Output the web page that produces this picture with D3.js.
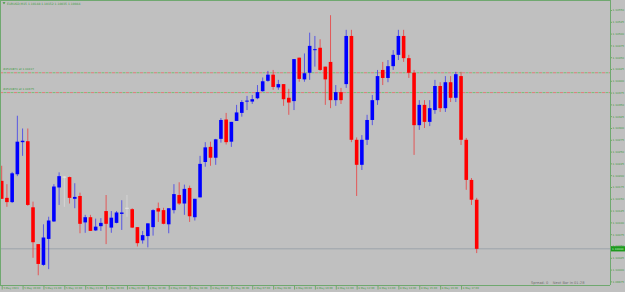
<!DOCTYPE html>
<html>
<head>
<meta charset="utf-8">
<script src="https://cdn.jsdelivr.net/npm/d3@7"></script>
<style>
  body { margin: 0; background: #c0c0c0; }
  svg { display: block; font-family: "DejaVu Sans", sans-serif; }
</style>
</head>
<body>
<div class="chart"></div>
<script>
// EURUSD M15, 5 May 19:00 -> 8 May 17:45
var opens = [1.10188,1.10152,1.10143,1.10202,1.10270,1.10272,1.10132,1.10054,1.10010,1.10065,
  1.10102,1.10174,1.10197,1.10196,1.10150,1.10156,1.10100,1.10111,1.10083,1.10092,
  1.10124,1.10089,1.10099,1.10118,1.10131,1.10128,1.10090,1.10062,1.10071,1.10090,
  1.10130,1.10126,1.10096,1.10126,1.10158,1.10140,1.10173,1.10111,1.10153,1.10228,
  1.10260,1.10237,1.10277,1.10318,1.10271,1.10315,1.10332,1.10356,1.10356,1.10363,
  1.10378,1.10400,1.10413,1.10386,1.10393,1.10364,1.10357,1.10449,1.10403,1.10417,
  1.10466,1.10470,1.10430,1.10440,1.10359,1.10376,1.10393,1.10495,1.10275,1.10222,
  1.10275,1.10317,1.10359,1.10423,1.10406,1.10431,1.10455,1.10495,1.10448,1.10417,
  1.10306,1.10349,1.10313,1.10338,1.10389,1.10342,1.10397,1.10364,1.10410,1.10275,
  1.10190,1.10148];
var highs = [1.10220,1.10181,1.10207,1.10326,1.10299,1.10299,1.10144,1.10054,1.10096,1.10112,
  1.10181,1.10206,1.10198,1.10197,1.10183,1.10163,1.10116,1.10116,1.10108,1.10109,
  1.10158,1.10124,1.10124,1.10147,1.10158,1.10130,1.10090,1.10082,1.10098,1.10128,
  1.10142,1.10131,1.10130,1.10181,1.10185,1.10180,1.10178,1.10150,1.10241,1.10270,
  1.10271,1.10277,1.10321,1.10332,1.10313,1.10349,1.10359,1.10368,1.10370,1.10391,
  1.10407,1.10421,1.10423,1.10402,1.10393,1.10383,1.10446,1.10449,1.10458,1.10502,
  1.10495,1.10488,1.10430,1.10539,1.10391,1.10385,1.10508,1.10508,1.10280,1.10285,
  1.10328,1.10370,1.10423,1.10440,1.10444,1.10465,1.10508,1.10508,1.10455,1.10423,
  1.10359,1.10359,1.10359,1.10402,1.10397,1.10410,1.10410,1.10419,1.10419,1.10279,
  1.10194,1.10152];
var lows = [1.10150,1.10133,1.10141,1.10198,1.10241,1.10135,1.10025,1.09988,1.10008,1.10001,
  1.10101,1.10137,1.10133,1.10140,1.10130,1.10077,1.10078,1.10082,1.10082,1.10082,
  1.10054,1.10078,1.10098,1.10084,1.10112,1.10088,1.10049,1.10055,1.10047,1.10072,
  1.10101,1.10096,1.10077,1.10119,1.10137,1.10116,1.10101,1.10104,1.10153,1.10218,
  1.10220,1.10222,1.10269,1.10265,1.10260,1.10315,1.10324,1.10338,1.10351,1.10361,
  1.10377,1.10398,1.10381,1.10381,1.10347,1.10328,1.10338,1.10398,1.10398,1.10402,
  1.10430,1.10421,1.10349,1.10342,1.10347,1.10351,1.10385,1.10270,1.10156,1.10211,
  1.10264,1.10306,1.10349,1.10391,1.10397,1.10423,1.10444,1.10440,1.10406,1.10243,
  1.10296,1.10300,1.10304,1.10330,1.10334,1.10334,1.10355,1.10355,1.10264,1.10169,
  1.10137,1.10035];
var closes = [1.10150,1.10143,1.10204,1.10271,1.10273,1.10137,1.10058,1.10012,1.10068,1.10104,
  1.10176,1.10198,1.10197,1.10152,1.10154,1.10097,1.10111,1.10082,1.10091,1.10099,
  1.10097,1.10110,1.10121,1.10121,1.10131,1.10089,1.10056,1.10073,1.10098,1.10126,
  1.10123,1.10097,1.10130,1.10160,1.10140,1.10171,1.10113,1.10150,1.10224,1.10259,
  1.10237,1.10276,1.10317,1.10270,1.10313,1.10333,1.10355,1.10358,1.10361,1.10376,
  1.10399,1.10413,1.10387,1.10393,1.10361,1.10354,1.10446,1.10404,1.10416,1.10474,
  1.10467,1.10423,1.10403,1.10359,1.10376,1.10359,1.10495,1.10275,1.10222,1.10275,
  1.10317,1.10359,1.10410,1.10406,1.10431,1.10455,1.10495,1.10448,1.10417,1.10306,
  1.10349,1.10313,1.10342,1.10389,1.10342,1.10397,1.10364,1.10414,1.10275,1.10190,
  1.10148,1.10044];

var timeLabels = ['5 May 2023','5 May 20:00','5 May 21:00','5 May 22:00','5 May 23:00',
  '8 May 00:00','8 May 01:00','8 May 02:00','8 May 03:00','8 May 04:00','8 May 05:00',
  '8 May 06:00','8 May 07:00','8 May 08:00','8 May 09:00','8 May 10:00','8 May 11:00',
  '8 May 12:00','8 May 13:00','8 May 14:00','8 May 15:00','8 May 16:00','8 May 17:00'];
var priceTicks = [1.10550,1.10525,1.10500,1.10475,1.10450,1.10425,1.10400,1.10375,1.10350,
  1.10325,1.10300,1.10275,1.10250,1.10225,1.10200,1.10175,1.10150,1.10125,1.10100,
  1.10075,1.10050,1.10025,1.10000,1.09975];
var levelPrices = [1.10417, 1.10375];
var levelNames = ['#4521871 at 1.10417', '#4521870 at 1.10375'];
var bid = 1.10044;

var W = 625, H = 292, plotR = 610, plotB = 285;
var green = '#3f9a3f', frame = '#6fa86f';

var svg = d3.select('.chart').append('svg')
  .attr('width', W).attr('height', H);

svg.append('rect').attr('width', W).attr('height', H).attr('fill', '#c0c0c0');

var x = d3.scaleLinear().domain([0, opens.length - 1]).range([1.7, 476.7]);
var y = d3.scaleLinear().domain([1.09975, 1.10550]).range([281.4, 10]);

// level lines (dash dot, green and red)
levelPrices.forEach(function (p, i) {
  var g = svg.append('g');
  g.append('line').attr('x1', 0).attr('x2', plotR).attr('y1', y(p)).attr('y2', y(p))
    .attr('stroke', '#e07a7a').attr('stroke-dasharray', '3,4');
  g.append('line').attr('x1', 0).attr('x2', plotR).attr('y1', y(p)).attr('y2', y(p))
    .attr('stroke', '#74bf74').attr('stroke-dasharray', '3,4').attr('stroke-dashoffset', -3.5);
  g.append('text').attr('x', 3).attr('y', y(p) - 2.5)
    .attr('font-size', 2.8).attr('fill', green).text(levelNames[i]);
});

// bid line
svg.append('line').attr('x1', 0).attr('x2', plotR).attr('y1', y(bid)).attr('y2', y(bid))
  .attr('stroke', '#9ca3ab').attr('stroke-width', 1);

var idx = d3.range(opens.length);
var colorOf = function (i) {
  if (opens[i] === closes[i]) return '#e6e6e6';
  return closes[i] > opens[i] ? '#0000ff' : '#ff0000';
};

svg.append('g').selectAll('line').data(idx).enter().append('line')
  .attr('x1', function (i) { return x(i); })
  .attr('x2', function (i) { return x(i); })
  .attr('y1', function (i) { return y(highs[i]); })
  .attr('y2', function (i) { return y(lows[i]); })
  .attr('stroke', colorOf)
  .attr('stroke-opacity', 0.55)
  .attr('stroke-width', 1);

var bw = 3.6;
svg.append('g').selectAll('rect').data(idx).enter().append('rect')
  .attr('x', function (i) { return x(i) - bw / 2; })
  .attr('y', function (i) { return Math.min(y(opens[i]), y(closes[i])); })
  .attr('width', bw)
  .attr('height', function (i) { return Math.max(1, Math.abs(y(opens[i]) - y(closes[i]))); })
  .attr('fill', colorOf);

// frame
svg.append('line').attr('x1', 0).attr('x2', plotR).attr('y1', 0.5).attr('y2', 0.5).attr('stroke', frame);
svg.append('line').attr('x1', 0.5).attr('x2', 0.5).attr('y1', 0).attr('y2', plotB).attr('stroke', frame);

// price axis
var ya = d3.axisRight(y).tickValues(priceTicks).tickSize(1.5).tickPadding(0.5)
  .tickFormat(d3.format('.5f'));
var gy = svg.append('g').attr('transform', 'translate(' + (plotR + 0.5) + ',0)').call(ya);
gy.select('.domain').attr('stroke', frame).attr('d', 'M0,0V' + plotB);
gy.selectAll('.tick line').attr('stroke', frame);
gy.selectAll('text').attr('font-size', 2.8).attr('fill', green).attr('font-family', 'DejaVu Sans');

// bid label box
svg.append('rect').attr('x', plotR + 1).attr('y', y(bid) - 2.6).attr('width', W - plotR - 1).attr('height', 5.2)
  .attr('fill', '#1d9a1d');
svg.append('text').attr('x', plotR + 2).attr('y', y(bid) + 1.1).attr('font-size', 2.8)
  .attr('fill', '#c8f2c8').text(d3.format('.5f')(bid));

// time axis
var labelBars = timeLabels.map(function (d, i) { return i * 4; });
var xa = d3.axisBottom(x).tickValues(labelBars).tickSize(4).tickPadding(0)
  .tickFormat(function (d, i) { return timeLabels[i]; });
var gx = svg.append('g').attr('transform', 'translate(0,' + (plotB + 0.5) + ')').call(xa);
gx.select('.domain').attr('stroke', frame).attr('d', 'M0,0H' + plotR);
gx.selectAll('.tick line').attr('stroke', frame);
gx.selectAll('text').attr('font-size', 2.6).attr('fill', green).attr('font-family', 'DejaVu Sans')
  .attr('text-anchor', 'start').attr('dx', 1.2).attr('dy', 0).attr('y', 3.6);

// title
svg.append('path').attr('d', 'M2.5,2.2h3l-1.5,2z').attr('fill', green);
svg.append('text').attr('x', 7).attr('y', 4.6).attr('font-size', 3).attr('fill', green)
  .text('EURUSD,M15  1.10148 1.10152 1.10035 1.10044');

// status text
svg.append('text').attr('x', 531).attr('y', 283.5).attr('font-size', 3.6).attr('fill', '#707070')
  .attr('xml:space', 'preserve').text('Spread: 0    Next Bar in 01:28');
</script>
</body>
</html>
